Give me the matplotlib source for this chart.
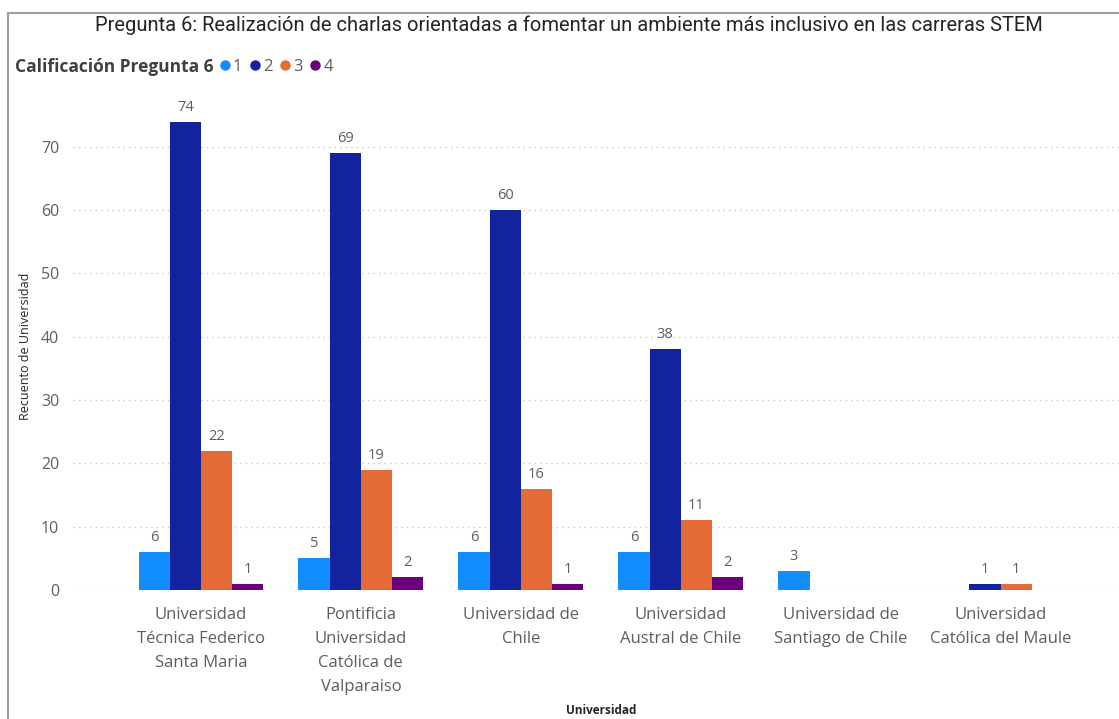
import numpy as np
import matplotlib.pyplot as plt
from matplotlib.lines import Line2D

universidades = ["Universidad\nTécnica Federico\nSanta Maria",
                 "Pontificia\nUniversidad\nCatólica de\nValparaiso",
                 "Universidad de\nChile",
                 "Universidad\nAustral de Chile",
                 "Universidad de\nSantiago de Chile",
                 "Universidad\nCatólica del Maule"]
calif = ["1", "2", "3", "4"]
c1 = [6, 5, 6, 6, 3, 0]
c2 = [74, 69, 60, 38, 0, 1]
c3 = [22, 19, 16, 11, 0, 1]
c4 = [1, 2, 1, 2, 0, 0]
series = [c1, c2, c3, c4]
colores = ["#118DFF", "#12239E", "#E66C37", "#6B007B"]

plt.rcParams['font.family'] = ['Open Sans', 'DejaVu Sans']
fig = plt.figure(figsize=(11.19, 7.19), dpi=100)
ax = fig.add_axes([0.0652, 0.1794, 0.9348, 0.678])

x = np.arange(len(universidades))
w = 0.195
for i, vals in enumerate(series):
    pos = x + (i - 1.5) * w
    ax.bar(pos, vals, width=w, color=colores[i], zorder=3)
    for p, v in zip(pos, vals):
        if v > 0:
            ax.annotate(str(v), (p, v), xytext=(0, 5), textcoords='offset points',
                        ha='center', va='bottom', fontsize=10.5, color='#605E5C')

ax.set_xlim(-0.8, 5.74)
ax.set_ylim(0, 77)
ax.set_yticks(range(0, 80, 10))
ax.set_xticks(x)
ax.set_xticklabels(universidades, fontsize=12, color='#605E5C', linespacing=1.68)
ax.tick_params(axis='y', labelsize=11.5, labelcolor='#605E5C', length=0, pad=10)
ax.tick_params(axis='x', length=0, pad=12)
ax.grid(axis='y', linestyle=(0, (1, 3)), color='#C8C8C8', linewidth=1, zorder=0)
for s in ax.spines.values():
    s.set_visible(False)
ax.set_ylabel("Recuento de Universidad", fontsize=9, color='#252423', labelpad=6)

fig.text(0.085, 0.9645, "Pregunta 6: Realización de charlas orientadas a fomentar un ambiente más inclusivo en las carreras STEM",
         fontsize=14.5, color='#252423', va='center', family=['Roboto', 'DejaVu Sans'])
fig.text(0.0134, 0.907, "Calificación Pregunta 6", fontsize=12.5, fontweight='bold',
         color='#404040', va='center')

handles = [Line2D([], [], marker='o', linestyle='', color=c, markersize=6.5) for c in colores]
fig.legend(handles, calif, loc='center left', bbox_to_anchor=(0.197, 0.907), ncol=4,
           frameon=False, fontsize=12, handlelength=0.5, handletextpad=0.25,
           columnspacing=0.5, labelcolor='#605E5C', borderaxespad=0, borderpad=0)

fig.text(0.537, 0.012, "Universidad", fontsize=8.5, fontweight='bold', color='#252423',
         ha='center', va='center')

fig.add_artist(Line2D([0.0072, 1.0], [0.982, 0.982], color='#9E9E9E', linewidth=1.5))
fig.add_artist(Line2D([0.0072, 0.0072], [0.0, 0.982], color='#9E9E9E', linewidth=1.5))

fig.savefig("out.png", dpi=100)
